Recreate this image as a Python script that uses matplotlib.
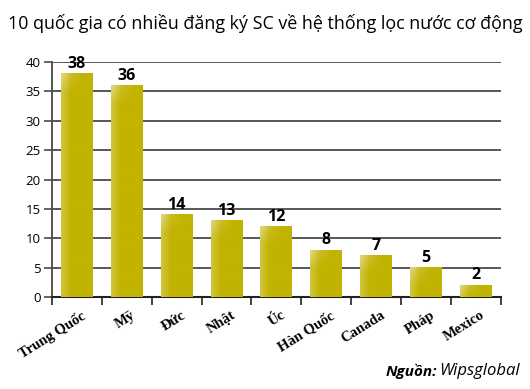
import numpy as np
import matplotlib
matplotlib.use("Agg")
import matplotlib.pyplot as plt
from matplotlib.colors import to_rgb

countries = ["Trung Quốc", "Mỹ", "Đức", "Nhật", "Úc", "Hàn Quốc", "Canada", "Pháp", "Mexico"]
counts = [38, 36, 14, 13, 12, 8, 7, 5, 2]
yticks = [0, 5, 10, 15, 20, 25, 30, 35, 40]

bar_color = "#c2b300"
grid_color = "#4a4a4a"

fig = plt.figure(figsize=(5.30, 3.89), dpi=100)
ax = fig.add_axes([0.098, 0.2365, 0.847, 0.604])

x = np.arange(len(countries))
w = 0.64
bars = ax.bar(x, counts, width=w, color=bar_color, zorder=3)

# glossy shading: lighter on the left and near the top-left corner
base = np.array(to_rgb(bar_color))
light = np.array([0.87, 0.83, 0.45])
for b in bars:
    h = b.get_height()
    nx, ny = 40, 60
    gx = np.linspace(0, 1, nx)
    gy = np.linspace(0, 1, ny)[:, None]  # 0 bottom, 1 top
    left = np.clip(1 - gx / 0.3, 0, 1) * 0.55
    top_scale = min(1.0, 3.0 / max(h, 0.1))
    top = np.clip((gy - (1 - top_scale)) / top_scale, 0, 1) * np.clip(1 - gx / 0.7, 0, 1) * 0.6
    t = np.clip(left[None, :] + top, 0, 1)
    img = base[None, None, :] * (1 - t[..., None]) + light[None, None, :] * t[..., None]
    ax.imshow(img, extent=(b.get_x(), b.get_x() + b.get_width(), 0, h),
              origin="lower", aspect="auto", zorder=4, interpolation="bilinear")

for xi, v in zip(x, counts):
    ax.text(xi, v + 0.3, str(v), ha="center", va="bottom", fontsize=11.5,
            fontweight="bold", family="Open Sans", zorder=5)

ax.set_xlim(-0.5, len(countries) - 0.5)
ax.set_ylim(0, 40)
ax.set_yticks(yticks)
ax.set_yticklabels([str(t) for t in yticks], family="Open Sans", fontsize=9.5)
ax.yaxis.grid(True, color=grid_color, linewidth=1.3, zorder=0)
ax.tick_params(axis="y", length=6, width=1.2, color=grid_color, pad=2)

# bottom ticks sit between categories
ax.set_xticks(np.arange(-0.5, len(countries), 1.0))
ax.set_xticklabels([])
ax.tick_params(axis="x", length=6, width=1.2, color="#222222")
for xi, name in zip(x, countries):
    ax.text(xi + 0.22, -2.0, name, rotation=32, ha="right", va="top",
            fontsize=10.5, fontweight="bold", family="Liberation Serif")

for s in ["top", "right"]:
    ax.spines[s].set_visible(False)
ax.spines["left"].set_color(grid_color)
ax.spines["left"].set_linewidth(1.3)
ax.spines["bottom"].set_color("#222222")
ax.spines["bottom"].set_linewidth(1.5)

fig.text(0.5, 0.94, "10 quốc gia có nhiều đăng ký SC về hệ thống lọc nước cơ động",
         ha="center", va="center", fontsize=12.9, family="Open Sans")

fig.text(0.824, 0.045, "Nguồn:", ha="right", va="center", fontsize=11,
         fontweight="bold", style="italic", family="Open Sans")
fig.text(0.828, 0.045, "Wipsglobal", ha="left", va="center", fontsize=12,
         style="italic", family="Open Sans")

fig.savefig("out.png", dpi=100)
